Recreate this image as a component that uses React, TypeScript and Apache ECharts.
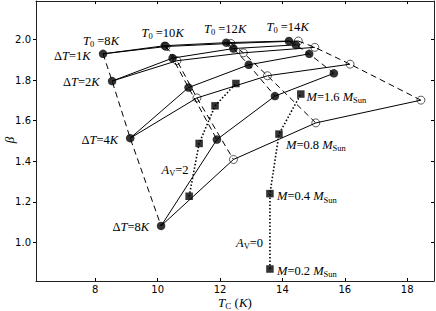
import React, { useEffect, useRef } from "react";
import * as echarts from "echarts";

// Model grid: rows = ΔT (1, 2, 4, 8 K), columns = T0 (8, 10, 12, 14 K)
const T0_VALUES = [8, 10, 12, 14];
const DT_VALUES = [1, 2, 4, 8];

// filled circles
const FILLED_TC = [
  [8.25, 10.23, 12.2, 14.21],
  [8.54, 10.48, 12.43, 14.43],
  [9.12, 10.99, 12.92, 14.86],
  [10.11, 11.9, 13.76, 15.65],
];
const FILLED_BETA = [
  [1.929, 1.969, 1.984, 1.992],
  [1.795, 1.908, 1.955, 1.973],
  [1.514, 1.763, 1.875, 1.929],
  [1.082, 1.507, 1.721, 1.833],
];

// open circles (the T0 = 8 K points coincide with the filled ones)
const OPEN_TC = [
  [8.25, 10.27, 12.35, 14.51],
  [8.54, 10.62, 12.75, 15.04],
  [9.12, 11.26, 13.52, 16.17],
  [10.11, 12.43, 15.07, 18.44],
];
const OPEN_BETA = [
  [1.929, 1.965, 1.98, 1.992],
  [1.795, 1.895, 1.934, 1.961],
  [1.514, 1.712, 1.821, 1.878],
  [1.082, 1.409, 1.589, 1.701],
];

// squares: rows = A_V (0, 2), columns = mass
const AV_VALUES = [0, 2];
const MASSES = [0.2, 0.4, 0.8, 1.6];
const SQUARE_TC = [
  [13.6, 13.6, 13.89, 14.59],
  [11.01, 11.33, 11.84, 12.51],
];
const SQUARE_BETA = [
  [0.87, 1.241, 1.534, 1.731],
  [1.228, 1.488, 1.673, 1.783],
];

const X_TICKS = [8, 10, 12, 14, 16, 18];
const Y_TICKS = [1.0, 1.2, 1.4, 1.6, 1.8, 2.0];

const SERIF = "'Liberation Serif', 'DejaVu Serif', serif";
const SANS = "'DejaVu Sans', sans-serif";

const RICH = {
  i: { fontFamily: SERIF, fontStyle: "italic", fontSize: 12.5, lineHeight: 16, fill: "#000" },
  n: { fontFamily: SERIF, fontSize: 12.5, lineHeight: 16, fill: "#000" },
  s: { fontFamily: SERIF, fontSize: 8.5, lineHeight: 8, verticalAlign: "bottom", fill: "#000" },
};

// label layout (pixel positions: left x, middle y)
const T0_LABEL_POS = [
  [83, 40.5],
  [141.5, 32.5],
  [204, 28.5],
  [266.5, 26.5],
];
const DT_LABEL_POS = [
  [54, 55.5],
  [63, 82],
  [81.5, 139.5],
  [112.5, 226.5],
];
const AV_LABEL_POS = [
  [236, 242.5],
  [161.5, 169.5],
];
const M_LABEL_POS = [
  [277, 270.5],
  [277, 196],
  [286, 144.5],
  [306.5, 96.5],
];

function pairs(xs: number[], ys: number[]) {
  return xs.map((x, i) => [x, ys[i]]);
}

export default function App() {
  const ref = useRef<HTMLDivElement>(null);

  useEffect(() => {
    if (!ref.current) return;
    const chart = echarts.init(ref.current, null, { renderer: "svg" });

    const series: any[] = [];
    const black = "#000";

    // solid iso-ΔT lines
    DT_VALUES.forEach((dt, r) => {
      series.push({
        type: "line",
        name: `filled dT=${dt}`,
        data: pairs(FILLED_TC[r], FILLED_BETA[r]),
        symbol: "none",
        lineStyle: { color: black, width: 1 },
        z: 2,
        silent: true,
      });
      series.push({
        type: "line",
        name: `open dT=${dt}`,
        data: pairs(OPEN_TC[r], OPEN_BETA[r]),
        symbol: "none",
        lineStyle: { color: black, width: 1 },
        z: 2,
        silent: true,
      });
    });

    // dashed iso-T0 lines
    T0_VALUES.forEach((t0, c) => {
      series.push({
        type: "line",
        name: `filled T0=${t0}`,
        data: DT_VALUES.map((_, r) => [FILLED_TC[r][c], FILLED_BETA[r][c]]),
        symbol: "none",
        lineStyle: { color: black, width: 1, type: [6, 4] },
        z: 2,
        silent: true,
      });
      if (c > 0) {
        series.push({
          type: "line",
          name: `open T0=${t0}`,
          data: DT_VALUES.map((_, r) => [OPEN_TC[r][c], OPEN_BETA[r][c]]),
          symbol: "none",
          lineStyle: { color: black, width: 1, type: [6, 4] },
          z: 2,
          silent: true,
        });
      }
    });

    // dotted iso-A_V lines
    AV_VALUES.forEach((av, r) => {
      series.push({
        type: "line",
        name: `Av=${av}`,
        data: pairs(SQUARE_TC[r], SQUARE_BETA[r]),
        symbol: "none",
        lineStyle: { color: black, width: 1.6, type: [1.5, 2] },
        z: 2,
        silent: true,
      });
    });

    // open circle markers (T0 > 8)
    const openPts: number[][] = [];
    DT_VALUES.forEach((_, r) =>
      T0_VALUES.forEach((_t, c) => {
        if (c > 0) openPts.push([OPEN_TC[r][c], OPEN_BETA[r][c]]);
      })
    );
    series.push({
      type: "scatter",
      name: "open",
      data: openPts,
      symbol: "circle",
      symbolSize: 8,
      itemStyle: { color: "rgba(0,0,0,0)", borderColor: black, borderWidth: 0.8 },
      z: 3,
      silent: true,
    });

    // squares
    const sqPts: number[][] = [];
    AV_VALUES.forEach((_, r) => MASSES.forEach((_m, c) => sqPts.push([SQUARE_TC[r][c], SQUARE_BETA[r][c]])));
    series.push({
      type: "scatter",
      name: "squares",
      data: sqPts,
      symbol: "rect",
      symbolSize: 7.5,
      itemStyle: { color: black },
      z: 4,
      silent: true,
    });

    // filled circles
    const filledPts: number[][] = [];
    DT_VALUES.forEach((_, r) => T0_VALUES.forEach((_t, c) => filledPts.push([FILLED_TC[r][c], FILLED_BETA[r][c]])));
    series.push({
      type: "scatter",
      name: "filled",
      data: filledPts,
      symbol: "circle",
      symbolSize: 8.5,
      itemStyle: { color: black },
      z: 5,
      silent: true,
    });

    const texts: any[] = [];
    const addText = (pos: number[], text: string) =>
      texts.push({
        type: "text",
        x: pos[0],
        y: pos[1],
        silent: true,
        z: 10,
        style: { text, rich: RICH, align: "left", verticalAlign: "middle" },
      });
    T0_VALUES.forEach((t, i) => addText(T0_LABEL_POS[i], `{i|T}{s|0}{n| =${t}}{i|K}`));
    DT_VALUES.forEach((d, i) => addText(DT_LABEL_POS[i], `{n|Δ}{i|T}{n|=${d}}{i|K}`));
    AV_VALUES.forEach((a, i) => addText(AV_LABEL_POS[i], `{i|A}{s|V}{n|=${a}}`));
    MASSES.forEach((m, i) => addText(M_LABEL_POS[i], `{i|M}{n|=${m.toFixed(1)} }{i|M}{s|Sun}`));

    // axis titles
    texts.push({
      type: "text",
      x: 235,
      y: 302.5,
      silent: true,
      style: {
        text: "{i|T}{s|C}{n| (}{i|K}{n|)}",
        rich: {
          i: { ...RICH.i, fontSize: 13 },
          n: { ...RICH.n, fontSize: 13 },
          s: { ...RICH.s, fontSize: 9 },
        },
        align: "center",
        verticalAlign: "middle",
      },
    });
    texts.push({
      type: "text",
      x: 9,
      y: 140,
      rotation: Math.PI / 2,
      silent: true,
      style: {
        text: "β",
        fontFamily: SERIF,
        fontStyle: "italic",
        fontSize: 13,
        fill: "#000",
        align: "center",
        verticalAlign: "middle",
      },
    });

    const xMin = 6.1;
    const xMax = 18.86;
    const yMin = 0.811;
    const yMax = 2.189;
    const frame = { show: true, lineStyle: { color: "#222", width: 1 } };

    chart.setOption({
      animation: false,
      backgroundColor: "#fff",
      grid: { left: 36, top: 1, right: 2, bottom: 30, containLabel: false, outerBoundsMode: "none" },
      xAxis: [
        {
          type: "value",
          position: "bottom",
          min: xMin,
          max: xMax,
          axisLine: frame,
          axisTick: { show: true, inside: true, length: 3, customValues: X_TICKS, lineStyle: { color: "#000" } },
          axisLabel: {
            customValues: X_TICKS,
            margin: 3,
            fontFamily: SANS,
            fontSize: 10,
            color: "#000",
            formatter: (v: number) => String(v),
          },
          splitLine: { show: false },
        },
        {
          type: "value",
          position: "top",
          min: xMin,
          max: xMax,
          axisLine: frame,
          axisTick: { show: true, inside: true, length: 3, customValues: X_TICKS, lineStyle: { color: "#000" } },
          axisLabel: { show: false },
          splitLine: { show: false },
        },
      ],
      yAxis: [
        {
          type: "value",
          position: "left",
          min: yMin,
          max: yMax,
          axisLine: frame,
          axisTick: { show: true, inside: false, length: 3, customValues: Y_TICKS, lineStyle: { color: "#000" } },
          axisLabel: {
            customValues: Y_TICKS,
            margin: 5,
            fontFamily: SANS,
            fontSize: 10,
            color: "#000",
            formatter: (v: number) => v.toFixed(1),
          },
          splitLine: { show: false },
        },
        {
          type: "value",
          position: "right",
          min: yMin,
          max: yMax,
          axisLine: frame,
          axisTick: { show: true, inside: true, length: 3, customValues: Y_TICKS, lineStyle: { color: "#000" } },
          axisLabel: { show: false },
          splitLine: { show: false },
        },
      ],
      series,
      graphic: texts,
    });

    return () => chart.dispose();
  }, []);

  return (
    <div
      ref={ref}
      style={{ position: "absolute", left: 0, top: 0, width: 436, height: 311, background: "#fff" }}
    />
  );
}
